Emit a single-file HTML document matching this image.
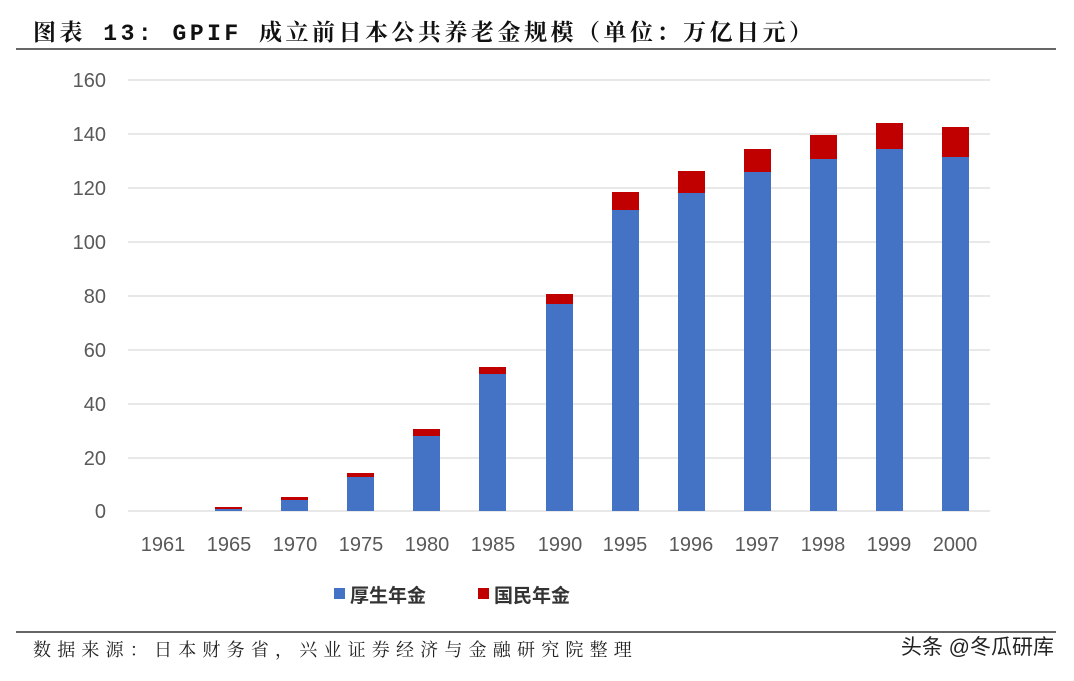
<!DOCTYPE html>
<html><head><meta charset="utf-8"><style>
body{margin:0;background:#fff;width:1074px;height:676px;overflow:hidden}
</style></head><body>
<svg width="1074" height="676" xmlns="http://www.w3.org/2000/svg">
<text x="33" y="40" font-family="'Liberation Mono','Noto Serif CJK SC',serif" font-weight="bold" font-size="23" letter-spacing="3.5" fill="#111">图表 13: GPIF 成立前日本公共养老金规模（单位：万亿日元）</text>
<line x1="16" y1="49" x2="1056" y2="49" stroke="#333" stroke-width="1.5"/>
<g stroke="#d9d9d9" stroke-width="1.3">
<line x1="128" x2="990" y1="80" y2="80"/><line x1="128" x2="990" y1="134" y2="134"/>
<line x1="128" x2="990" y1="188" y2="188"/><line x1="128" x2="990" y1="242" y2="242"/>
<line x1="128" x2="990" y1="296" y2="296"/><line x1="128" x2="990" y1="350" y2="350"/>
<line x1="128" x2="990" y1="404" y2="404"/><line x1="128" x2="990" y1="458" y2="458"/>
<line x1="128" x2="990" y1="511" y2="511"/>
</g>
<g font-family="'Liberation Sans',sans-serif" font-size="20" fill="#595959" text-anchor="end">
<text x="106" y="87">160</text><text x="106" y="141">140</text><text x="106" y="195">120</text>
<text x="106" y="249">100</text><text x="106" y="303">80</text><text x="106" y="357">60</text>
<text x="106" y="411">40</text><text x="106" y="465">20</text><text x="106" y="518">0</text>
</g>
<g id="bars">
<rect x="215" y="509" width="27" height="2" fill="#4472c4"/><rect x="215" y="507" width="27" height="2" fill="#c00000"/>
<rect x="281" y="500" width="27" height="11" fill="#4472c4"/><rect x="281" y="497" width="27" height="3" fill="#c00000"/>
<rect x="347" y="477" width="27" height="34" fill="#4472c4"/><rect x="347" y="473" width="27" height="4" fill="#c00000"/>
<rect x="413" y="436" width="27" height="75" fill="#4472c4"/><rect x="413" y="429" width="27" height="7" fill="#c00000"/>
<rect x="479" y="374" width="27" height="137" fill="#4472c4"/><rect x="479" y="367" width="27" height="7" fill="#c00000"/>
<rect x="546" y="304" width="27" height="207" fill="#4472c4"/><rect x="546" y="294" width="27" height="10" fill="#c00000"/>
<rect x="612" y="210" width="27" height="301" fill="#4472c4"/><rect x="612" y="192" width="27" height="18" fill="#c00000"/>
<rect x="678" y="193" width="27" height="318" fill="#4472c4"/><rect x="678" y="171" width="27" height="22" fill="#c00000"/>
<rect x="744" y="172" width="27" height="339" fill="#4472c4"/><rect x="744" y="149" width="27" height="23" fill="#c00000"/>
<rect x="810" y="159" width="27" height="352" fill="#4472c4"/><rect x="810" y="135" width="27" height="24" fill="#c00000"/>
<rect x="876" y="149" width="27" height="362" fill="#4472c4"/><rect x="876" y="123" width="27" height="26" fill="#c00000"/>
<rect x="942" y="157" width="27" height="354" fill="#4472c4"/><rect x="942" y="127" width="27" height="30" fill="#c00000"/>
</g>
<g font-family="'Liberation Sans',sans-serif" font-size="20" fill="#595959" text-anchor="middle">
<text x="163" y="551">1961</text><text x="229" y="551">1965</text><text x="295" y="551">1970</text>
<text x="361" y="551">1975</text><text x="427" y="551">1980</text><text x="493" y="551">1985</text>
<text x="560" y="551">1990</text><text x="625" y="551">1995</text><text x="691" y="551">1996</text>
<text x="757" y="551">1997</text><text x="823" y="551">1998</text><text x="889" y="551">1999</text>
<text x="955" y="551">2000</text>
</g>
<rect x="334" y="588" width="11" height="11" fill="#4472c4"/>
<text x="350" y="602" font-family="'Liberation Sans','Noto Sans CJK SC',sans-serif" font-weight="bold" font-size="19" fill="#333">厚生年金</text>
<rect x="478" y="588" width="11" height="11" fill="#c00000"/>
<text x="494" y="602" font-family="'Liberation Sans','Noto Sans CJK SC',sans-serif" font-weight="bold" font-size="19" fill="#333">国民年金</text>
<line x1="16" y1="632" x2="1056" y2="632" stroke="#333" stroke-width="1.5"/>
<text x="33" y="656" font-family="'Liberation Serif','Noto Serif CJK SC',serif" font-size="18" letter-spacing="6.2" fill="#222">数据来源：日本财务省，兴业证券经济与金融研究院整理</text>
<text x="1054" y="654" text-anchor="end" font-family="'Liberation Sans','Noto Sans CJK SC',sans-serif" font-size="21" fill="#222">头条 @冬瓜研库</text>
</svg>
</body></html>
